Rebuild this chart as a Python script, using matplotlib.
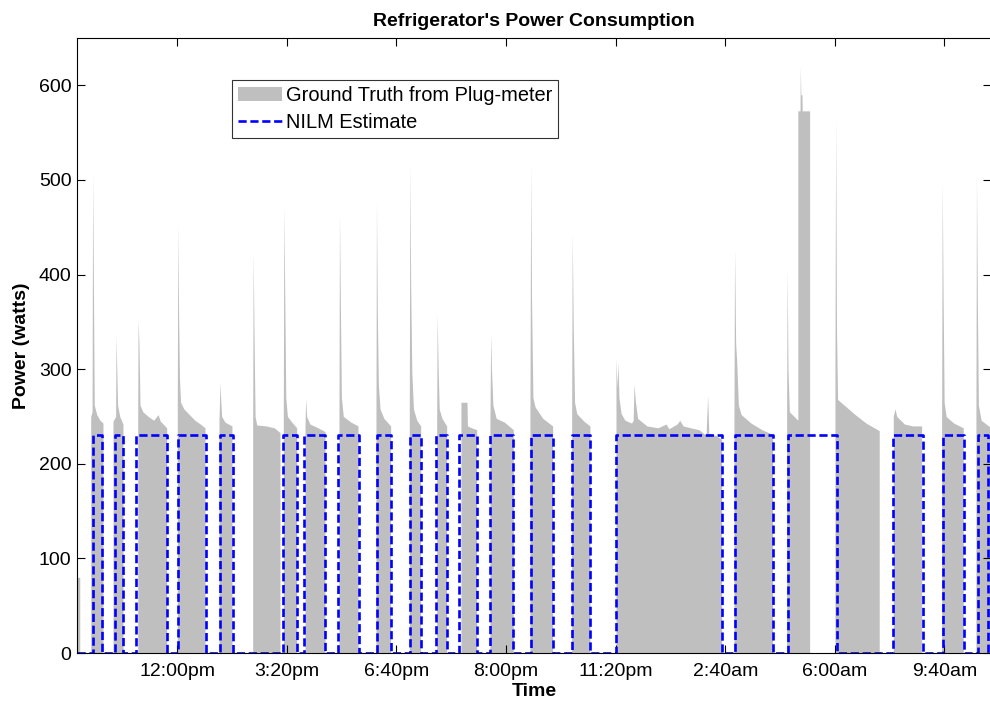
"""Refrigerator power: plug-meter ground truth vs NILM estimate."""
import matplotlib
matplotlib.use("Agg")
import matplotlib.pyplot as plt

plt.rcParams["font.family"] = ["Liberation Sans", "DejaVu Sans"]

GRAY = "#bfbfbf"
BLUE = "#0000ff"

# ground truth (minutes from start, watts) - outline of each compressor cycle
gt_t = [
    0, 0, 5, 5,
    25, 25, 27.5, 28.5, 30, 31.5, 36, 42, 47.4, 47.4,
    65.7, 65.7, 70.5, 71.2, 72.5, 74, 78, 83.9, 83.9,
    110.8, 110.8, 111.5, 113, 115, 120, 130, 140, 148, 152, 163.7, 163.7,
    183, 183, 184, 185.5, 187, 189, 195, 205, 215, 225, 233.6, 233.6,
    259.1, 259.1, 261, 262.5, 264, 270, 282.8, 282.8,
    320.6, 320.6, 321.5, 323, 325, 328, 345, 360, 370.4, 370.4,
    376.5, 376.5, 377.5, 379, 381, 384, 392, 400.9, 400.9,
    416.1, 416.1, 417.3, 419, 425, 440, 452.6, 452.6,
    478.1, 478.1, 479, 480.5, 482.5, 486, 500, 512.8, 512.8,
    545.6, 545.6, 546.5, 548, 550, 553, 560, 572.4, 572.4,
    606.4, 606.4, 607.5, 609, 611, 614, 620, 627.2, 627.2,
    656.4, 656.4, 657.3, 659, 661, 666, 674.6, 674.6,
    700.7, 700.7, 711.7, 712.5, 720, 729.4, 729.4,
    753.6, 753.6, 755, 756.5, 759, 765, 780, 796.2, 796.2,
    826.6, 826.6, 828, 829.5, 832, 836, 850, 868, 868,
    902.7, 902.7, 903.8, 905.5, 908, 912, 925, 936.1, 936.1,
    983.6, 983.6, 985.5, 987.2, 989, 993, 1000, 1012, 1015, 1016.5, 1019, 1023,
    1040, 1060, 1075, 1080, 1095, 1100, 1106, 1120, 1135, 1148, 1150.9, 1153,
    1165, 1176.4, 1176.4,
    1198.9, 1198.9, 1200, 1202, 1204, 1207, 1212, 1230, 1250, 1269.5, 1269.5,
    1295, 1295, 1296, 1297.5, 1300, 1315.5, 1315.5, 1319.5, 1320, 1321, 1323,
    1323.5, 1337, 1337,
    1383.2, 1383.2, 1384.5, 1386, 1388, 1400, 1420, 1440, 1464, 1464,
    1489.6, 1489.6, 1492.7, 1496, 1510, 1525, 1541.4, 1541.4,
    1577.9, 1577.9, 1579, 1580.5, 1582.5, 1586, 1600, 1617.3, 1617.3,
    1640.5, 1640.5, 1641.5, 1643, 1645, 1650, 1668,
]
gt_w = [
    0, 80, 80, 0,
    0, 250, 255, 508, 386, 262, 252, 246, 243, 0,
    0, 245, 250, 335, 302, 262, 250, 242, 0,
    0, 250, 352, 328, 262, 255, 250, 246, 252, 245, 238, 0,
    0, 255, 452, 353, 290, 265, 258, 252, 246, 242, 238, 0,
    0, 245, 285, 265, 250, 244, 240, 0,
    0, 238, 423, 339, 250, 241, 240, 238, 233, 0,
    0, 250, 472, 385, 270, 250, 244, 238, 0,
    0, 240, 269, 250, 242, 238, 234, 0,
    0, 250, 463, 376, 270, 250, 244, 240, 0,
    0, 250, 476, 362, 283, 258, 248, 240, 0,
    0, 250, 516, 385, 297, 258, 246, 240, 0,
    0, 245, 358, 302, 258, 248, 240, 0,
    0, 265, 265, 240, 238, 236, 0,
    0, 245, 337, 298, 262, 248, 244, 236, 0,
    0, 250, 515, 374, 270, 260, 248, 240, 0,
    0, 250, 444, 348, 265, 253, 245, 240, 0,
    0, 312, 280, 307, 270, 253, 246, 243, 246, 284, 266, 248,
    240, 238, 242, 237, 242, 246, 240, 238, 236, 230, 272, 232,
    230, 226, 0,
    0, 250, 426, 327, 307, 262, 252, 243, 236, 231, 0,
    0, 250, 406, 300, 255, 246, 573, 573, 620, 590, 590,
    573, 573, 0,
    0, 300, 565, 344, 268, 262, 252, 243, 235, 0,
    0, 250, 258, 250, 242, 240, 240, 0,
    0, 250, 497, 380, 265, 250, 243, 238, 0,
    0, 250, 503, 376, 262, 246, 238,
]

# NILM estimate: on/off switching times (minutes) and the fixed on-level
nilm_on = [28.6, 69.9, 108.5, 184.9, 260.9, 376.5, 414, 477, 546.9, 607.7, 655.1,
           697.6, 753.6, 828.5, 903.8, 983.6, 1200.7, 1296.9, 1489.6, 1579.7, 1643.6]
nilm_off = [46.2, 83.9, 164.5, 235.4, 284.1, 400.9, 452, 514, 573, 627.2, 674.6,
            729.4, 796.2, 868, 936.1, 1176.4, 1270.5, 1387.4, 1543.3, 1618.6, 1662.9]
nilm_level = 230

tick_pos = [183, 383, 583, 783, 983, 1183, 1383, 1583]
tick_lbl = ["12:00pm", "3:20pm", "6:40pm", "8:00pm", "11:20pm", "2:40am", "6:00am", "9:40am"]

# step trace for the estimate
nx, ny = [0], [0]
for a, b in zip(nilm_on, nilm_off):
    nx += [a, a, b, b]
    ny += [0, nilm_level, nilm_level, 0]
nx.append(1668); ny.append(0)

fig = plt.figure(figsize=(9.9, 7.01), dpi=100)
ax = fig.add_axes([77 / 990, 48 / 701, 914 / 990, 615 / 701])

ax.fill_between(gt_t, gt_w, 0, color=GRAY, lw=0, label="Ground Truth from Plug-meter", zorder=1)
ax.plot(nx, ny, color=BLUE, lw=1.9, dashes=(3.1, 1.4), label="NILM Estimate", zorder=2)

ax.set_xlim(0, 1668)
ax.set_ylim(0, 650)
ax.set_yticks(range(0, 700, 100))
ax.set_xticks(tick_pos)
ax.set_xticklabels(tick_lbl)
ax.tick_params(direction="in", length=6, width=0.8, labelsize=14, top=True, right=True)
ax.tick_params(axis="x", pad=7)
ax.tick_params(axis="y", pad=4)
for s in ax.spines.values():
    s.set_linewidth(0.8)

ax.set_title("Refrigerator's Power Consumption", fontsize=14, weight="bold", pad=9)
ax.set_xlabel("Time", fontsize=14, weight="bold", labelpad=2)
ax.set_ylabel("Power (watts)", fontsize=14, weight="bold", labelpad=6)

leg = ax.legend(loc="upper left", bbox_to_anchor=(0.1696, 0.9317), borderaxespad=0,
                fontsize=14.4, frameon=True, fancybox=False, edgecolor="black",
                handlelength=2.2, handletextpad=0.2, labelspacing=0.38,
                borderpad=0.3)
leg.get_frame().set_linewidth(0.8)

fig.savefig("out.png", dpi=100)
